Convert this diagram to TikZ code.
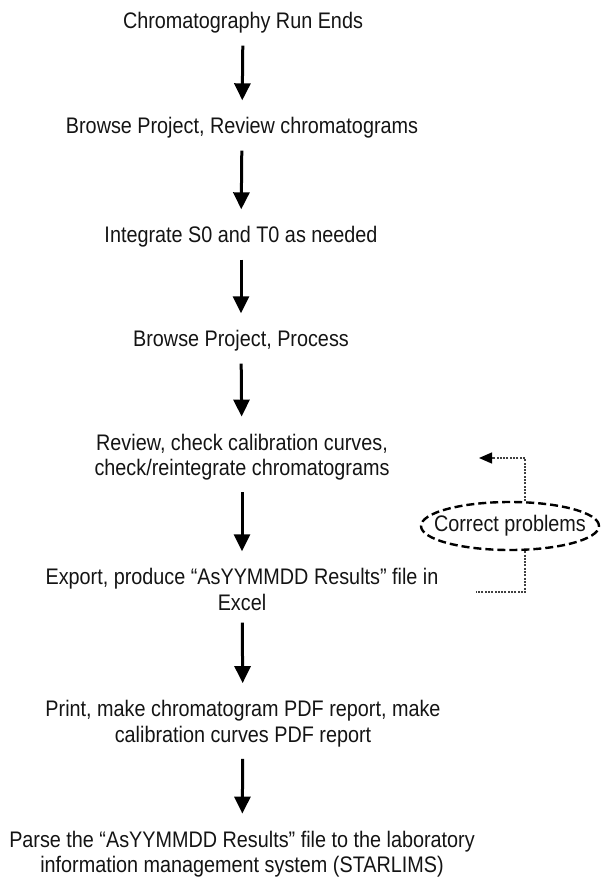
\documentclass[tikz,border=0pt]{standalone}
\usepackage{fontspec}
\setmainfont{Liberation Sans}[FakeStretch=0.88]
\usetikzlibrary{arrows.meta,shapes.geometric}
\begin{document}
\begin{tikzpicture}[x=1pt,y=-1pt,
  txt/.style={inner sep=0pt,align=center,font=\fontsize{22.5}{25.5}\selectfont,text=black!92},
  flowarrow/.style={line width=3pt,-{Triangle[width=16pt,length=17pt]},shorten <=12pt,shorten >=17pt},
  dotline/.style={line width=1.3pt,black!75,dash pattern=on 2pt off 1.3pt},
  ovalbox/.style={ellipse,draw,line width=2.4pt,dash pattern=on 8pt off 4pt,minimum width=175pt,minimum height=48pt,inner sep=-13pt,text=black!92,font=\fontsize{22.5}{25.5}\selectfont}
]
\useasboundingbox (0,0) rectangle (600,886);
\node[txt] (n1) at (243,23) {Chromatography Run Ends};
\node[txt] (n2) at (242,128) {Browse Project, Review chromatograms};
\node[txt] (n3) at (241,237) {Integrate S0 and T0 as needed};
\node[txt] (n4) at (241,341) {Browse Project, Process};
\node[txt] (n5) at (242,457) {Review, check calibration curves,\\check/reintegrate chromatograms};
\node[txt] (n6) at (242,589.5) {Export, produce \textquotedblleft AsYYMMDD Results\textquotedblright{} file in\\Excel};
\node[txt] (n7) at (243,723.5) {Print, make chromatogram PDF report, make\\calibration curves PDF report};
\node[txt] (n8) at (242,854) {Parse the \textquotedblleft AsYYMMDD Results\textquotedblright{} file to the laboratory\\information management system (STARLIMS)};
\draw[flowarrow] (n1) -- (n2);
\draw[flowarrow] (n2) -- (n3);
\draw[flowarrow] (n3) -- (n4);
\draw[flowarrow] (n4) -- (n5);
\draw[flowarrow] (n5) -- (n6);
\draw[flowarrow] (n6) -- (n7);
\draw[flowarrow] (n7) -- (n8);
\node[ovalbox] (cp) at (510,526) {Correct problems};
\coordinate (tipA) at (479,458);
\coordinate (endB) at (476,592);
\draw[dotline,-{Triangle[width=11pt,length=13pt,color=black]}] ([xshift=15pt]cp.north) |- (tipA);
\draw[dotline] ([xshift=15pt]cp.south) |- (endB);
\end{tikzpicture}
\end{document}
